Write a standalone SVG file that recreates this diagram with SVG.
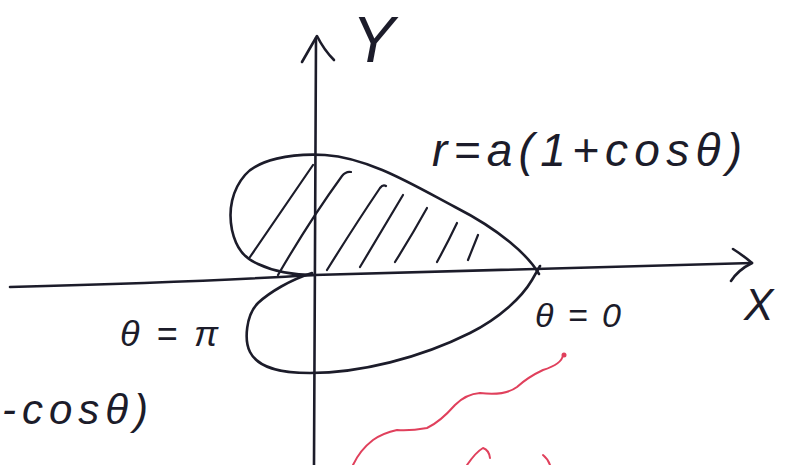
<svg xmlns="http://www.w3.org/2000/svg" width="785" height="465" viewBox="0 0 785 465">
<style>
.ink{fill:none;stroke:#1c1c2a;stroke-width:2.6;stroke-linecap:round;stroke-linejoin:round}
.hatch{fill:none;stroke:#1c1c2a;stroke-width:2.2;stroke-linecap:round}
.red{fill:none;stroke:#e0405c;stroke-width:2;stroke-linecap:round;stroke-linejoin:round}
.lbl{font-family:"Liberation Sans","DejaVu Sans",sans-serif;fill:#1c1c2a;font-style:italic}
</style>
<rect width="785" height="465" fill="#ffffff"/>
<g id="axes">
<path class="ink" d="M10,287 Q200,282 314,275 L752,263"/>
<path class="ink" d="M733,249 Q744,256 752,263 Q738,270 731,281"/>
<path class="ink" d="M316,38 L314,465"/>
<path class="ink" d="M302,62 Q310,48 317,36 Q324,50 334,60"/>
</g>
<g id="curve">
<path class="ink" d="M539,274 C528,255 500,230 455,207 C415,186 370,158 325,155 C290,153 258,160 245,175 C232,190 228,210 232,230 C236,248 244,258 258,264 C275,272 295,275 314,275"/>
<path class="ink" d="M312,273 C290,280 270,292 258,303 C246,315 244,340 250,352 C258,368 280,373 310,373 C360,373 420,358 470,333 C500,318 522,297 532,280 L540,266"/>
</g>
<g id="hatching">
<path class="hatch" d="M250,257 L313,165"/>
<path class="hatch" d="M278,275 Q310,220 342,176 Q346,171 351,172"/>
<path class="hatch" d="M327,270 Q355,225 380,188 Q383,184 386,186"/>
<path class="hatch" d="M360,267 Q385,225 403,195"/>
<path class="hatch" d="M395,262 Q412,235 427,208"/>
<path class="hatch" d="M437,262 Q448,242 457,223"/>
<path class="hatch" d="M468,260 L478,235"/>
</g>
<g id="labels">
<text class="lbl" x="352" y="62" font-size="64">Y</text>
<text class="lbl" x="744" y="320" font-size="44">X</text>
<text class="lbl" x="432" y="166" font-size="46" textLength="310" lengthAdjust="spacing">r=a(1+cosθ)</text>
<text class="lbl" x="120" y="346" font-size="36" textLength="98" lengthAdjust="spacing">θ=π</text>
<text class="lbl" x="535" y="327" font-size="34" textLength="86" lengthAdjust="spacing">θ=0</text>
<text class="lbl" x="2" y="424" font-size="42" textLength="146" lengthAdjust="spacing">-cosθ)</text>
</g>
<g id="red-marks">
<path class="red" d="M563,355 Q562,364 543,370 Q528,377 517,387 Q505,396 480,393 Q466,394 455,405 Q440,422 427,428 Q410,431 397,430 Q383,433 373,440 Q360,450 353,465"/>
<circle cx="564" cy="355" r="2.5" fill="#e0405c"/>
<path class="red" d="M467,465 Q476,452 483,448 Q489,450 490,458"/>
<path class="red" d="M543,455 Q548,459 550,465"/>
</g>
</svg>
